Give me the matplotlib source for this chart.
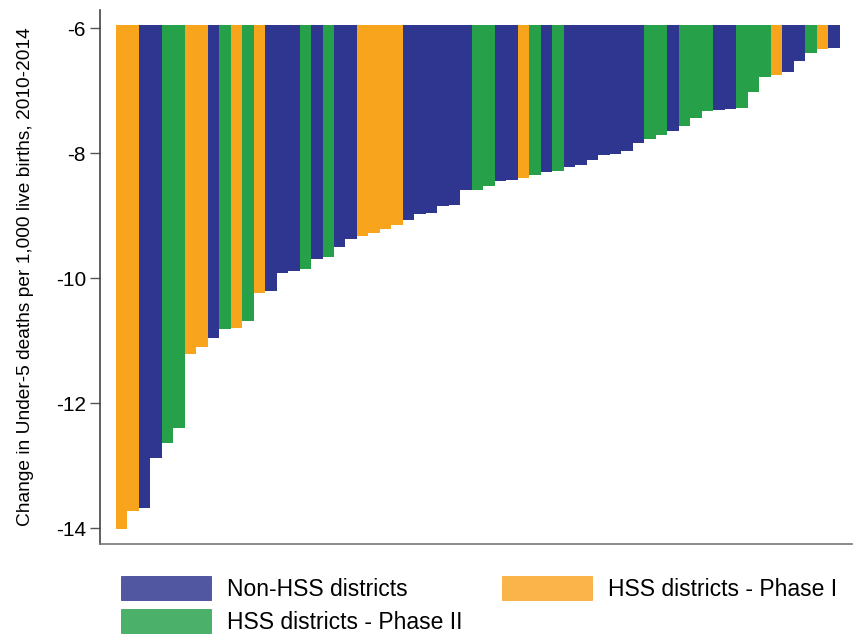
import numpy as np
import matplotlib
matplotlib.use("Agg")
from matplotlib import pyplot as plt
from matplotlib.patches import Patch

plt.rcParams['font.family'] = ['Liberation Sans', 'DejaVu Sans']

# change in under-5 mortality per district, sorted
change = [-14.01, -13.73, -13.67, -12.87, -12.63, -12.40, -11.21, -11.10, -10.96,
          -10.82, -10.80, -10.69, -10.24, -10.20, -9.91, -9.88, -9.86, -9.69,
          -9.66, -9.50, -9.38, -9.32, -9.27, -9.22, -9.15, -9.07, -8.97, -8.96,
          -8.84, -8.82, -8.59, -8.58, -8.52, -8.45, -8.43, -8.39, -8.34, -8.30,
          -8.28, -8.22, -8.18, -8.10, -8.02, -8.01, -7.96, -7.83, -7.77, -7.70,
          -7.65, -7.57, -7.43, -7.33, -7.30, -7.29, -7.28, -7.02, -6.78, -6.75,
          -6.70, -6.52, -6.39, -6.33, -6.31]
# N = non-HSS, 1 = HSS phase I, 2 = HSS phase II
group = list("11NN2211N2121NNN2N2NN1111NNNNNN22NN12N2NNNNNNN22N222NN2221NN21N")

labels = {'N': 'Non-HSS districts', '1': 'HSS districts - Phase I', '2': 'HSS districts - Phase II'}
colors = {'N': '#2E368F', '1': '#F8A51D', '2': '#27A04A'}
legend_colors = {'N': '#5257A2', '1': '#FAB44A', '2': '#4BB06A'}

base = -5.95
yticks = [-6, -8, -10, -12, -14]

fig = plt.figure(figsize=(8.54, 6.35), dpi=100)
ax = fig.add_axes([0.117, 0.143, 0.881, 0.841])

x = np.arange(len(change))
vals = np.array(change)
cols = [colors[g] for g in group]
ax.bar(x, vals - base, bottom=base, width=1.0, align='edge', color=cols,
       linewidth=0)

ax.set_xlim(-1.37, 64.1)
ax.set_ylim(-14.256, -5.71)
ax.set_yticks(yticks)
ax.set_yticklabels([str(t) for t in yticks])
ax.set_xticks([])
ax.tick_params(axis='y', length=7, width=1, color='#555555', pad=3, labelsize=15)

for s in ['top', 'right']:
    ax.spines[s].set_visible(False)
ax.spines['left'].set_color('#444444')
ax.spines['bottom'].set_color('#777777')
ax.spines['left'].set_linewidth(1.2)
ax.spines['bottom'].set_linewidth(1.2)

ax.set_ylabel('Change in Under-5 deaths per 1,000 live births, 2010-2014', fontsize=13.8)
ax.yaxis.set_label_coords(-0.088, 0.5)

handles = [Patch(facecolor=legend_colors[k], edgecolor=colors[k], linewidth=0.5, label=labels[k])
           for k in ['N', '2', '1']]
fig.legend(handles=handles, ncol=2, loc='upper left', bbox_to_anchor=(0.142, 0.093),
           frameon=False, fontsize=16.5, handlelength=3.9, handleheight=1.25,
           handletextpad=0.7, columnspacing=1.75, labelspacing=0.35, borderpad=0,
           borderaxespad=0)

fig.savefig('out.png', dpi=100)
